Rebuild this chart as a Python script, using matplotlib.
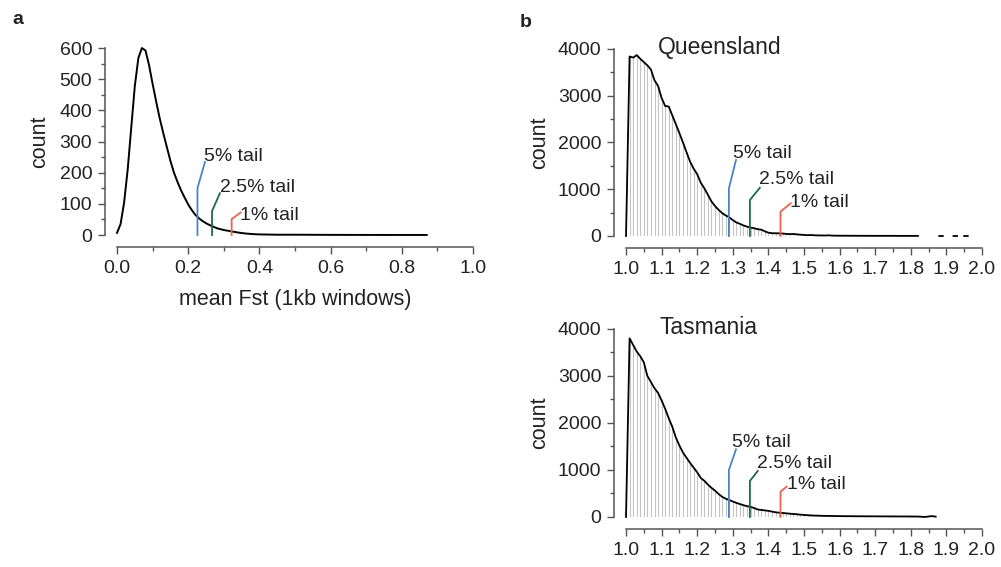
import numpy as np
import matplotlib
matplotlib.use("Agg")
import matplotlib.pyplot as plt
from matplotlib.ticker import MultipleLocator, FormatStrFormatter

plt.rcParams['font.family'] = ['Liberation Sans', 'DejaVu Sans']

# panel a: mean Fst density curve
fst_x = [0.00, 0.01, 0.02, 0.03, 0.04, 0.05, 0.06, 0.07, 0.08, 0.09, 0.10,
         0.11, 0.12, 0.13, 0.14, 0.15, 0.16, 0.17, 0.18, 0.19, 0.20,
         0.21, 0.22, 0.23, 0.24, 0.25, 0.26, 0.27, 0.28, 0.29, 0.30,
         0.32, 0.34, 0.36, 0.38, 0.40, 0.45, 0.50, 0.60, 0.70, 0.80, 0.87]
fst_count = [7, 35, 105, 210, 345, 478, 568, 600, 592, 545, 485,
             428, 374, 327, 282, 238, 200, 170, 143, 120, 98,
             80, 65, 54, 45, 38, 32, 27, 22, 19, 16,
             12, 8, 5, 3, 2, 1, 1, 0.5, 0.3, 0.2, 0.2]

# panel b: histograms, bins of 0.01 starting at 1.00
bin_start = 1.0
bin_width = 0.01
qld_counts = [0, 3840, 3815, 3870, 3790, 3720, 3650, 3560, 3330, 3210,
              2950, 2780, 2770, 2580, 2390, 2200, 2000, 1790, 1590, 1440,
              1320, 1140, 1020, 880, 740, 640, 560, 490, 440, 400,
              340, 290, 260, 225, 200, 180, 165, 145, 135, 100,
              70, 60, 58, 57, 52, 45, 40, 43, 35, 28,
              22, 18, 20, 15, 12, 12, 10, 14, 8, 7,
              6, 6, 5, 5, 5, 4, 4, 4, 4, 3,
              3, 3, 3, 3, 3, 3, 2, 2, 2, 2,
              2, 2, 2,
              np.nan, np.nan, np.nan, np.nan, np.nan, 0, 0, np.nan, np.nan, 0,
              0, np.nan, 0, 0]
tas_counts = [0, 3800, 3660, 3520, 3420, 3290, 3000, 2870, 2740, 2640,
              2480, 2300, 2100, 1920, 1690, 1520, 1370, 1260, 1150, 1050,
              950, 830, 770, 690, 620, 560, 490, 430, 390, 360,
              330, 300, 275, 250, 230, 215, 190, 160, 150, 140,
              130, 115, 100, 92, 85, 78, 70, 64, 58, 50,
              44, 38, 34, 30, 28, 25, 23, 22, 21, 20,
              19, 18, 17, 17, 16, 16, 15, 15, 14, 14,
              14, 13, 13, 13, 12, 12, 12, 11, 11, 11,
              10, 10, 9, 5, 0, 12, 18, 8]

tail_labels = ['5% tail', '2.5% tail', '1% tail']
tail_colors = ['#4a84c4', '#1d6b3e', '#e8644a']

# tail marks: cut-off, knee height, line end (x, y), text anchor (x, baseline y)
a_cut = [0.226, 0.267, 0.322]
a_knee = [150, 77, 51]
a_end = [(0.247, 234), (0.289, 134), (0.347, 72)]
a_text = [(0.245, 236), (0.288, 137), (0.345, 48)]

qld_cut = [1.289, 1.348, 1.434]
qld_knee = [1020, 770, 520]
qld_end = [(1.309, 1626), (1.376, 1033), (1.4626, 700)]
qld_text = [(1.300, 1662), (1.374, 1105), (1.461, 613)]

tas_cut = [1.289, 1.348, 1.434]
tas_knee = [1000, 766, 538]
tas_end = [(1.309, 1440), (1.370, 979), (1.451, 645)]
tas_text = [(1.297, 1497), (1.369, 1049), (1.451, 589)]

spine_col = '#555555'
text_col = '#222222'


def style_axes(ax):
    for s in ['top', 'right']:
        ax.spines[s].set_visible(False)
    for s in ['left', 'bottom']:
        ax.spines[s].set_position(('outward', 8.5))
        ax.spines[s].set_color(spine_col)
        ax.spines[s].set_linewidth(1.1)
    ax.tick_params(which='major', length=4.8, width=1.0, color=spine_col,
                   labelsize=14, labelcolor=text_col, pad=4.5)
    ax.tick_params(which='minor', length=2.8, width=1.0, color=spine_col)


def draw_tails(ax, cut, knee, end, txt):
    for i in range(len(tail_labels)):
        ax.plot([cut[i], cut[i], end[i][0]], [0, knee[i], end[i][1]],
                color=tail_colors[i], lw=1.3, clip_on=False, zorder=4)
        ax.text(txt[i][0], txt[i][1], tail_labels[i], fontsize=14,
                color=text_col, ha='left', va='baseline', zorder=5)


fig = plt.figure(figsize=(10.01, 5.67), dpi=100)

# panel a
ax = fig.add_axes([0.1169, 0.5855, 0.3556, 0.3298])
style_axes(ax)
ax.plot(fst_x, fst_count, color='black', lw=1.4, clip_on=False, zorder=3)
draw_tails(ax, a_cut, a_knee, a_end, a_text)
ax.set_xlim(0, 1.0)
ax.set_ylim(0, 600)
ax.xaxis.set_major_locator(MultipleLocator(0.2))
ax.xaxis.set_minor_locator(MultipleLocator(0.1))
ax.xaxis.set_major_formatter(FormatStrFormatter('%.1f'))
ax.yaxis.set_major_locator(MultipleLocator(100))
ax.yaxis.set_minor_locator(MultipleLocator(50))
ax.set_ylabel('count', fontsize=15.5, color=text_col)
ax.yaxis.set_label_coords(-0.188, 0.5)
ax.set_xlabel('mean Fst (1kb windows)', fontsize=15.5, color=text_col)
ax.xaxis.set_label_coords(0.5, -0.29)

# panel b
panels = [
    ([0.6254, 0.5838, 0.3556, 0.3298], qld_counts, 'Queensland', (1.090, 3900),
     qld_cut, qld_knee, qld_end, qld_text),
    ([0.6254, 0.0882, 0.3556, 0.3316], tas_counts, 'Tasmania', (1.095, 3894),
     tas_cut, tas_knee, tas_end, tas_text),
]
for rect, counts, name, name_pos, cut, knee, end, txt in panels:
    ax = fig.add_axes(rect)
    style_axes(ax)
    counts = np.array(counts, dtype=float)
    xs = np.round(bin_start + bin_width * np.arange(len(counts)), 2)
    ok = ~np.isnan(counts)
    ax.vlines(xs[ok], 0, counts[ok], color='#c4c4c4', lw=0.8, zorder=1)
    ax.plot(xs, counts, color='black', lw=1.3, clip_on=False, zorder=3)
    draw_tails(ax, cut, knee, end, txt)
    ax.text(name_pos[0], name_pos[1], name, fontsize=16.5, color=text_col,
            ha='left', va='baseline')
    ax.set_xlim(1.0, 2.0)
    ax.set_ylim(0, 4000)
    ax.xaxis.set_major_locator(MultipleLocator(0.1))
    ax.xaxis.set_minor_locator(MultipleLocator(0.05))
    ax.xaxis.set_major_formatter(FormatStrFormatter('%.1f'))
    ax.yaxis.set_major_locator(MultipleLocator(1000))
    ax.yaxis.set_minor_locator(MultipleLocator(500))
    ax.set_ylabel('count', fontsize=15.5, color=text_col)
    ax.yaxis.set_label_coords(-0.213, 0.5)

fig.text(0.012, 0.958, 'a', fontsize=14, fontweight='bold', color=text_col)
fig.text(0.519, 0.952, 'b', fontsize=14, fontweight='bold', color=text_col)

fig.savefig('out.png', dpi=100)
